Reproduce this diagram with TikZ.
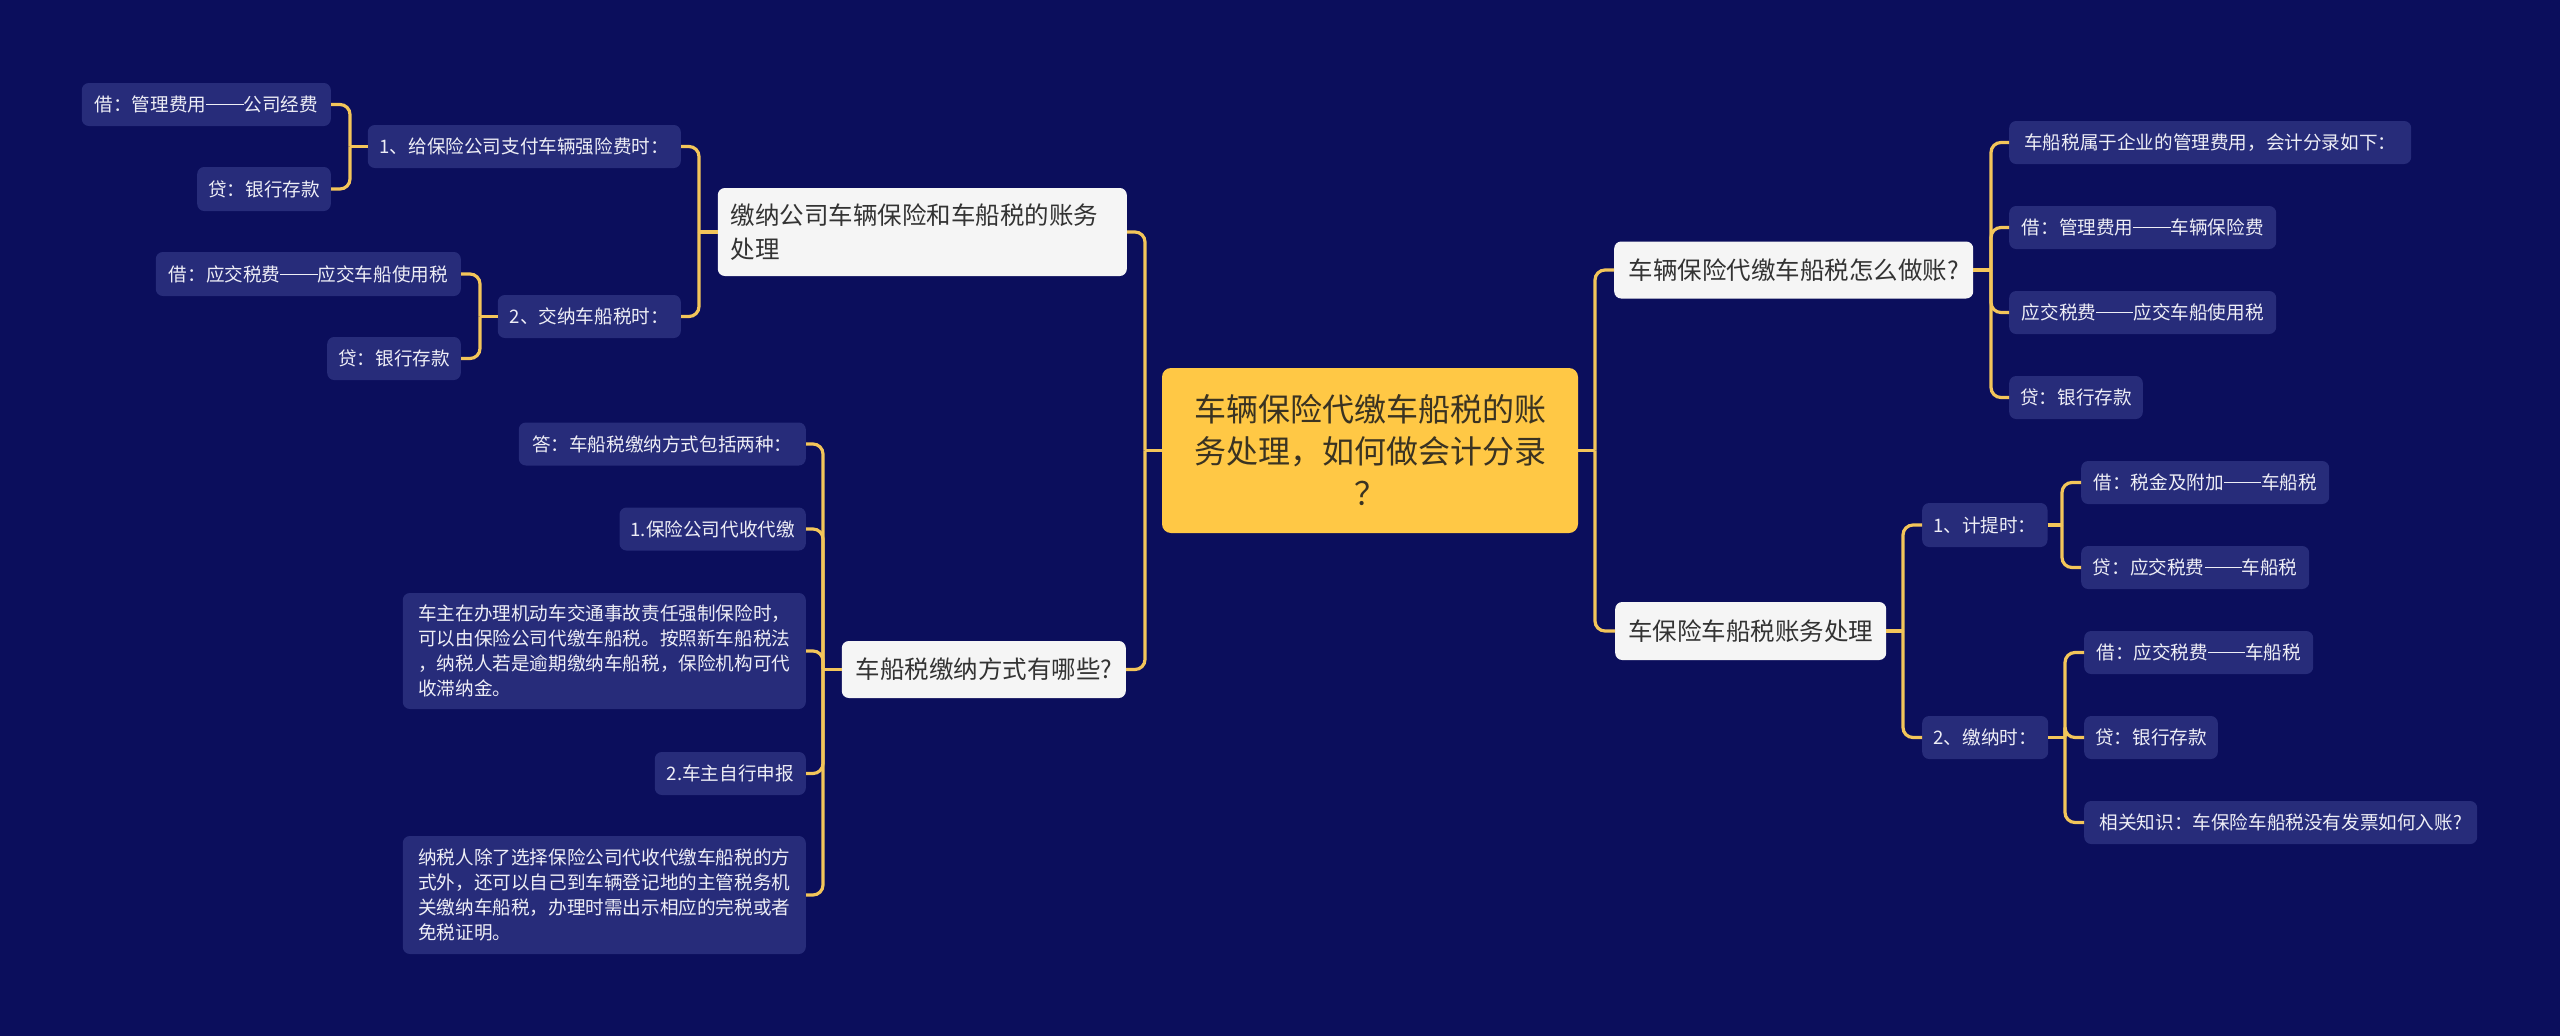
\documentclass[tikz,border=0pt]{standalone}
\usepackage{fontspec}
\setmainfont{Noto Sans CJK SC}
\newcommand{\ldash}{\rule[0.34em]{2em}{0.06em}}
\definecolor{bg}{HTML}{0B0E5C}
\definecolor{leaf}{HTML}{272C7A}
\definecolor{linec}{HTML}{F3C55A}
\definecolor{mainfill}{HTML}{FFC845}
\definecolor{lonefill}{HTML}{F5F5F5}
\definecolor{maintext}{HTML}{3A3322}
\definecolor{lonetext}{HTML}{333333}
\definecolor{leaftext}{HTML}{EEEEF6}
\tikzset{
  conn/.style={draw=linec, line width=3.2pt, rounded corners=10pt},
  leafbox/.style={fill=leaf, rounded corners=7pt, text=leaftext, font=\fontsize{18.6}{25}\selectfont, inner xsep=11pt, inner ysep=0pt, minimum height=43pt},
  lonebox/.style={fill=lonefill, rounded corners=7pt, text=lonetext, font=\fontsize{24.5}{34}\selectfont, inner xsep=13pt, inner ysep=0pt, minimum height=57pt},
  rootbox/.style={fill=mainfill, rounded corners=9pt, text=maintext, font=\fontsize{32}{42}\selectfont, align=center, inner sep=0pt, minimum width=416pt, minimum height=165pt}
}
\begin{document}
\begin{tikzpicture}[x=1pt,y=-1pt]
\fill[bg] (0,0) rectangle (2560,1036);
\useasboundingbox (0,0) rectangle (2560,1036);

% root
\node[rootbox] (c) at (1370,450.5) {车辆保险代缴车船税的账\\务处理，如何做会计分录\\？};

% level 1
\node[lonebox, anchor=east, text width=383pt, align=left, minimum height=88pt] (a) at (1127,232) {缴纳公司车辆保险和车船税的账务\\处理};
\node[lonebox, anchor=east, minimum width=284pt] (b) at (1126,669.5) {车船税缴纳方式有哪些?};
\node[lonebox, anchor=west, minimum width=359pt] (r1) at (1614,270) {车辆保险代缴车船税怎么做账?};
\node[lonebox, anchor=west, minimum width=270pt, minimum height=58pt] (r2) at (1615,631) {车保险车船税账务处理};

% A branch
\node[leafbox, anchor=east, minimum width=313pt] (a1) at (681,146.5) {1、给保险公司支付车辆强险费时：};
\node[leafbox, anchor=east, minimum width=183pt] (a2) at (681,316.5) {2、交纳车船税时：};
\node[leafbox, anchor=east, minimum width=249pt] (a11) at (331,104.5) {借：管理费用\ldash 公司经费};
\node[leafbox, anchor=east, minimum width=133pt, minimum height=44pt] (a12) at (331,189) {贷：银行存款};
\node[leafbox, anchor=east, minimum width=305pt, minimum height=44pt] (a21) at (461,274) {借：应交税费\ldash 应交车船使用税};
\node[leafbox, anchor=east, minimum width=133pt] (a22) at (461,358.5) {贷：银行存款};

% B branch
\node[leafbox, anchor=east, minimum width=287pt] (b1) at (806,444) {答：车船税缴纳方式包括两种：};
\node[leafbox, anchor=east, minimum width=185pt] (b2) at (806,529) {1.保险公司代收代缴};
\node[leafbox, anchor=east, minimum width=403pt, minimum height=116pt, align=left] (b3) at (806,651) {车主在办理机动车交通事故责任强制保险时，\\可以由保险公司代缴车船税。按照新车船税法\\，纳税人若是逾期缴纳车船税，保险机构可代\\收滞纳金。};
\node[leafbox, anchor=east, minimum width=151pt] (b4) at (806,773.5) {2.车主自行申报};
\node[leafbox, anchor=east, minimum width=403pt, minimum height=118pt, align=left] (b5) at (806,895) {纳税人除了选择保险公司代收代缴车船税的方\\式外，还可以自己到车辆登记地的主管税务机\\关缴纳车船税，办理时需出示相应的完税或者\\免税证明。};

% R1 branch
\node[leafbox, anchor=west, minimum width=402pt] (r11) at (2009,142.5) {车船税属于企业的管理费用，会计分录如下：};
\node[leafbox, anchor=west, minimum width=267pt] (r12) at (2009,227.5) {借：管理费用\ldash 车辆保险费};
\node[leafbox, anchor=west, minimum width=267pt] (r13) at (2009,312.5) {应交税费\ldash 应交车船使用税};
\node[leafbox, anchor=west, minimum width=133pt] (r14) at (2009,397.5) {贷：银行存款};

% R2 branch
\node[leafbox, anchor=west, minimum width=122pt, minimum height=44pt] (r21) at (1922,525) {1、计提时：};
\node[leafbox, anchor=west, minimum width=126pt] (r22) at (1922,737.5) {2、缴纳时：};
\node[leafbox, anchor=west, minimum width=248pt] (r211) at (2081,482.5) {借：税金及附加\ldash 车船税};
\node[leafbox, anchor=west, minimum width=228pt] (r212) at (2081,567.5) {贷：应交税费\ldash 车船税};
\node[leafbox, anchor=west, minimum width=229pt] (r221) at (2084,652.5) {借：应交税费\ldash 车船税};
\node[leafbox, anchor=west, minimum width=133pt] (r222) at (2084,737.5) {贷：银行存款};
\node[leafbox, anchor=west, minimum width=393pt] (r223) at (2084,822.5) {相关知识：车保险车船税没有发票如何入账?};

% bracket positions
\coordinate (kc) at (1145,0);
\coordinate (kcr) at (1595,0);
\coordinate (ka) at (699,0);
\coordinate (ka1) at (350,0);
\coordinate (ka2) at (480,0);
\coordinate (kb) at (823,0);
\coordinate (kr1) at (1991,0);
\coordinate (kr2) at (1903,0);
\coordinate (kr21) at (2062,0);
\coordinate (kr22) at (2065,0);

% connectors: root left
\draw[conn] (c.west) -- (c.west -| kc);
\draw[conn] (c.west -| kc) |- (a.east);
\draw[conn] (c.west -| kc) |- (b.east);
% root right
\draw[conn] (c.east) -- (c.east -| kcr);
\draw[conn] (c.east -| kcr) |- (r1.west);
\draw[conn] (c.east -| kcr) |- (r2.west);

% A
\draw[conn] (a.west) -- (a.west -| ka);
\draw[conn] (a.west -| ka) |- (a1.east);
\draw[conn] (a.west -| ka) |- (a2.east);
\draw[conn] (a1.west) -- (a1.west -| ka1);
\draw[conn] (a1.west -| ka1) |- (a11.east);
\draw[conn] (a1.west -| ka1) |- (a12.east);
\draw[conn] (a2.west) -- (a2.west -| ka2);
\draw[conn] (a2.west -| ka2) |- (a21.east);
\draw[conn] (a2.west -| ka2) |- (a22.east);

% B
\draw[conn] (b.west) -- (b.west -| kb);
\draw[conn] (b.west -| kb) |- (b1.east);
\draw[conn] (b.west -| kb) |- (b2.east);
\draw[conn] (b.west -| kb) |- (b3.east);
\draw[conn] (b.west -| kb) |- (b4.east);
\draw[conn] (b.west -| kb) |- (b5.east);

% R1
\draw[conn] (r1.east) -- (r1.east -| kr1);
\draw[conn] (r1.east -| kr1) |- (r11.west);
\draw[conn] (r1.east -| kr1) |- (r12.west);
\draw[conn] (r1.east -| kr1) |- (r13.west);
\draw[conn] (r1.east -| kr1) |- (r14.west);

% R2
\draw[conn] (r2.east) -- (r2.east -| kr2);
\draw[conn] (r2.east -| kr2) |- (r21.west);
\draw[conn] (r2.east -| kr2) |- (r22.west);
\draw[conn] (r21.east) -- (r21.east -| kr21);
\draw[conn] (r21.east -| kr21) |- (r211.west);
\draw[conn] (r21.east -| kr21) |- (r212.west);
\draw[conn] (r22.east) -- (r22.east -| kr22);
\draw[conn] (r22.east -| kr22) |- (r221.west);
\draw[conn] (r22.east -| kr22) |- (r222.west);
\draw[conn] (r22.east -| kr22) |- (r223.west);
\end{tikzpicture}
\end{document}
